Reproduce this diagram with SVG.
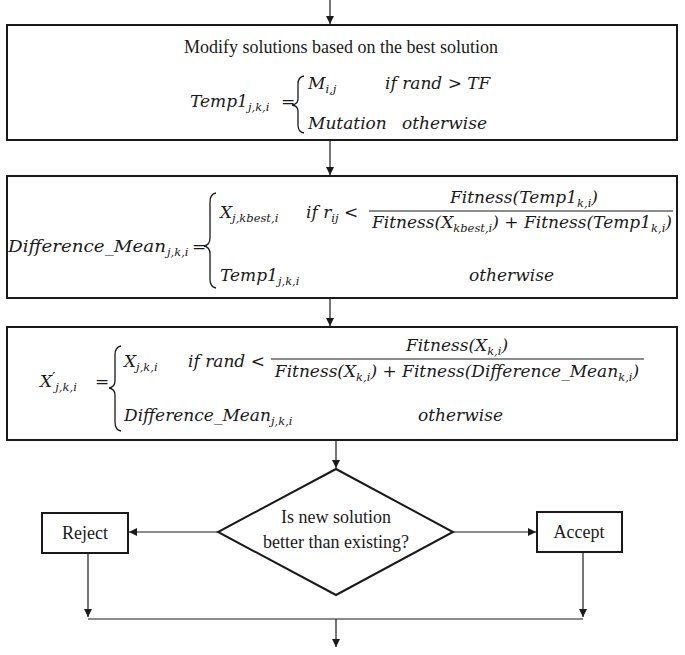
<svg xmlns="http://www.w3.org/2000/svg" width="685" height="655" viewBox="0 0 685 655">
<style>
.box{fill:#fff;stroke:#1a1a1a;stroke-width:2}
.ln{fill:none;stroke:#1a1a1a;stroke-width:1.2}
.br{fill:none;stroke:#1a1a1a;stroke-width:1.3}
.t{font-family:"Liberation Serif","Times New Roman",serif;font-size:18px;fill:#1a1a1a}
.m{font-family:"DejaVu Serif",serif;font-style:italic;font-size:17px;fill:#1a1a1a}
.u{font-family:"DejaVu Serif",serif;font-size:17px;fill:#1a1a1a}
.sb{font-size:11.5px}
</style>
<defs>
<marker id="ah" viewBox="0 0 10 10" refX="10" refY="5" markerWidth="8" markerHeight="8" markerUnits="userSpaceOnUse" orient="auto">
<path d="M0,0 L10,5 L0,10 z" fill="#1a1a1a"/>
</marker>
</defs>

<g id="connectors">
<line class="ln" x1="330" y1="0" x2="330" y2="24" marker-end="url(#ah)"/>
<line class="ln" x1="330" y1="141" x2="330" y2="175" marker-end="url(#ah)"/>
<line class="ln" x1="330" y1="299" x2="330" y2="326" marker-end="url(#ah)"/>
<line class="ln" x1="336" y1="441" x2="336" y2="468" marker-end="url(#ah)"/>
<line class="ln" x1="218" y1="532" x2="129" y2="532" marker-end="url(#ah)"/>
<line class="ln" x1="453" y1="532" x2="536" y2="532" marker-end="url(#ah)"/>
<line class="ln" x1="88" y1="553" x2="88" y2="617" marker-end="url(#ah)"/>
<line class="ln" x1="583" y1="552" x2="583" y2="617" marker-end="url(#ah)"/>
<line class="ln" x1="88" y1="619" x2="583" y2="619" stroke="#555"/>
<line class="ln" x1="336" y1="619" x2="336" y2="647" marker-end="url(#ah)"/>
</g>

<g id="box1">
<rect class="box" x="7" y="25" width="670" height="115"/>
<text class="t" x="341" y="53" text-anchor="middle">Modify solutions based on the best solution</text>
<text class="m" x="190" y="107">Temp1<tspan class="sb" dy="4">j,k,i</tspan></text>
<text class="u" x="281" y="107">=</text>
<path class="br" d="M304,76 Q298,77 298,84 L298,99 Q298,104 292,105 Q298,106 298,111 L298,125 Q298,132 304,133"/>
<text class="m" x="308" y="89">M<tspan class="sb" dy="4">i,j</tspan></text>
<text class="m" x="385" y="89">if rand &gt; TF</text>
<text class="m" x="308" y="129">Mutation</text>
<text class="m" x="402" y="129">otherwise</text>
</g>

<g id="box2">
<rect class="box" x="7" y="176" width="670" height="122"/>
<text class="m" x="8" y="252" textLength="158" lengthAdjust="spacingAndGlyphs">Difference_Mean</text>
<text class="m sb" x="167" y="256">j,k,i</text>
<text class="u" x="192" y="252">=</text>
<path class="br" d="M216,193 Q210,194 210,202 L210,238 Q210,245 204,246 Q210,247 210,254 L210,279 Q210,287 216,288"/>
<text class="m" x="220" y="218">X<tspan class="sb" dy="4">j,kbest,i</tspan></text>
<text class="m" x="306" y="218">if r<tspan class="sb" dy="4">ij</tspan><tspan dy="-4"> &lt;</tspan></text>
<line class="ln" x1="369" y1="211" x2="673" y2="211"/>
<text class="m" x="524" y="203" text-anchor="middle">Fitness(Temp1<tspan class="sb" dy="4">k,i</tspan><tspan dy="-4">)</tspan></text>
<text class="m" x="522" y="228" text-anchor="middle">Fitness(X<tspan class="sb" dy="4">kbest,i</tspan><tspan dy="-4">) + Fitness(Temp1</tspan><tspan class="sb" dy="4">k,i</tspan><tspan dy="-4">)</tspan></text>
<text class="m" x="220" y="281">Temp1<tspan class="sb" dy="4">j,k,i</tspan></text>
<text class="m" x="469" y="281">otherwise</text>
</g>

<g id="box3">
<rect class="box" x="7" y="327" width="670" height="113"/>
<text class="m" x="40" y="387">X<tspan font-size="14" dy="-4">′</tspan><tspan class="sb" dy="8">j,k,i</tspan></text>
<text class="u" x="95" y="387">=</text>
<path class="br" d="M121,346 Q115,347 115,355 L115,381 Q115,387 109,388 Q115,389 115,395 L115,422 Q115,430 121,431"/>
<text class="m" x="124" y="367">X<tspan class="sb" dy="4">j,k,i</tspan></text>
<text class="m" x="188" y="367">if rand &lt;</text>
<line class="ln" x1="271" y1="359" x2="644" y2="359"/>
<text class="m" x="457" y="351" text-anchor="middle">Fitness(X<tspan class="sb" dy="4">k,i</tspan><tspan dy="-4">)</tspan></text>
<text class="m" x="457" y="377" text-anchor="middle">Fitness(X<tspan class="sb" dy="4">k,i</tspan><tspan dy="-4">) + Fitness(Difference_Mean</tspan><tspan class="sb" dy="4">k,i</tspan><tspan dy="-4">)</tspan></text>
<text class="m" x="124" y="421">Difference_Mean<tspan class="sb" dy="4">j,k,i</tspan></text>
<text class="m" x="418" y="421">otherwise</text>
</g>

<g id="decision">
<polygon class="box" points="336,469 453,532 336,595 218,532"/>
<text class="t" x="336" y="523" text-anchor="middle">Is new solution</text>
<text class="t" x="336" y="548" text-anchor="middle">better than existing?</text>
</g>

<g id="reject">
<rect class="box" x="42" y="513" width="86" height="40"/>
<text class="t" x="85" y="539" text-anchor="middle">Reject</text>
</g>

<g id="accept">
<rect class="box" x="537" y="512" width="85" height="40"/>
<text class="t" x="579" y="538" text-anchor="middle">Accept</text>
</g>
</svg>
